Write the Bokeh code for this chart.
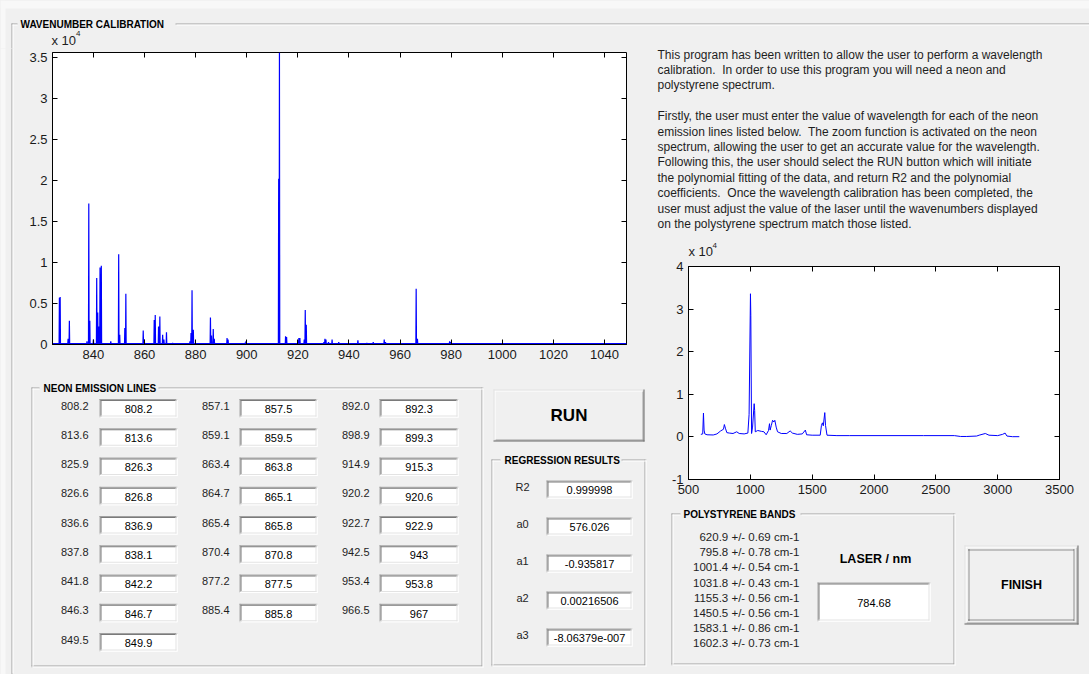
from bokeh.plotting import figure
from bokeh.layouts import row, column
from bokeh.models import Range1d, LinearAxis, FixedTicker, CustomLabelingPolicy
from bokeh.core.properties import value
from bokeh.embed import file_html
from bokeh.resources import INLINE

BG = "#f0f0f0"
FONT = "Liberation Sans"
INK = "#1e1e1e"

# ---------------------------------------------------------------- data
# neon emission spectrum: line positions (raw nm) and peak counts
neon_peak_nm = [826.7, 827.0, 830.1, 830.6, 837.5, 838.2, 838.6, 840.0, 841.3, 841.7,
                842.2, 842.6, 843.1, 846.8, 849.9, 850.3, 852.3, 852.7, 859.5, 859.9,
                863.8, 864.2, 865.5, 866.0, 867.1, 867.6, 868.6, 871.0, 877.8, 878.2,
                878.6, 879.1, 885.8, 886.2, 886.9, 887.3, 892.3, 892.7, 899.3, 899.7,
                912.5, 912.8, 915.2, 915.6, 920.0, 920.4, 920.8, 922.5, 922.9, 923.3,
                930.2, 930.6, 931.0, 932.0, 933.4, 936.0, 943.5, 947.0, 949.5, 953.8,
                954.3, 966.3, 966.8, 979.4, 979.8]
neon_peak_counts = [5700, 5800, 700, 2900, 400, 17200, 2900, 600, 8100, 3900,
                    2200, 9400, 9600, 400, 11000, 1200, 2000, 6200, 1700, 600,
                    3000, 3600, 2200, 3400, 1200, 600, 1500, 200, 400, 1400,
                    6600, 1800, 3300, 1100, 1900, 700, 800, 600, 200, 400,
                    20200, 35600, 1000, 900, 500, 800, 800, 600, 4200, 2400,
                    300, 700, 600, 300, 600, 300, 500, 200, 300, 600,
                    300, 6800, 700, 400, 300]
neon_baseline = 100
neon_window_nm = [824.0, 1048.6]

# polystyrene Raman spectrum (Raman shift cm-1, counts)
ps_shift = [600, 615, 621, 626, 632, 650, 700, 730, 760, 783, 790, 800, 810, 830, 860,
            890, 910, 950, 980, 990, 1001, 1004, 1010, 1018, 1031, 1035, 1040, 1060,
            1090, 1110, 1128, 1147, 1155, 1160, 1170, 1180, 1190, 1198, 1209, 1220,
            1250, 1295, 1322, 1340, 1380, 1420, 1445, 1455, 1500, 1565, 1575, 1583,
            1590, 1602, 1608, 1620, 1700, 1800, 2000, 2400, 2650, 2700, 2750, 2830,
            2850, 2900, 2930, 3000, 3040, 3060, 3075, 3120, 3175]
ps_counts = [600, 700, 5600, 1600, 700, 500, 450, 700, 1400, 1800, 2900, 1900, 1000, 900,
             800, 1200, 800, 700, 900, 5300, 33600, 28500, 800, 2300, 7800, 6200, 1200,
             1500, 1300, 1200, 500, 1500, 3100, 1600, 2700, 3900, 3500, 3900, 2300, 1200,
             800, 800, 1400, 900, 600, 700, 1600, 500, 400, 400, 2700, 3300, 2600, 5700,
             2700, 400, 300, 300, 300, 300, 300, 100, 100, 200, 400, 800, 400, 300, 600,
             900, 200, 50, 50]

neon_xticks = [840, 860, 880, 900, 920, 940, 960, 980, 1000, 1020, 1040]
neon_yticks = [0, 5000, 10000, 15000, 20000, 25000, 30000, 35000]
neon_ylabels = ["0", "0.5", "1", "1.5", "2", "2.5", "3", "3.5"]
ps_xticks = [500, 1000, 1500, 2000, 2500, 3000, 3500]
ps_yticks = [-10000, 0, 10000, 20000, 30000, 40000]
ps_ylabels = ["-1", "0", "1", "2", "3", "4"]

neon_ref = ["808.2", "813.6", "825.9", "826.6", "836.6", "837.8", "841.8", "846.3", "849.5",
            "857.1", "859.1", "863.4", "864.7", "865.4", "870.4", "877.2", "885.4",
            "892.0", "898.9", "914.9", "920.2", "922.7", "942.5", "953.4", "966.5"]
neon_fit = ["808.2", "813.6", "826.3", "826.8", "836.9", "838.1", "842.2", "846.7", "849.9",
            "857.5", "859.5", "863.8", "865.1", "865.8", "870.8", "877.5", "885.8",
            "892.3", "899.3", "915.3", "920.6", "922.9", "943", "953.8", "967"]
neon_columns = [9, 8, 8]

reg_names = ["R2", "a0", "a1", "a2", "a3"]
reg_values = ["0.999998", "576.026", "-0.935817", "0.00216506", "-8.06379e-007"]

ps_bands = ["620.9 +/- 0.69 cm-1", "795.8 +/- 0.78 cm-1", "1001.4 +/- 0.54 cm-1",
            "1031.8 +/- 0.43 cm-1", "1155.3 +/- 0.56 cm-1", "1450.5 +/- 0.56 cm-1",
            "1583.1 +/- 0.86 cm-1", "1602.3 +/- 0.73 cm-1"]
laser_nm = "784.68"

intro_lines = [
    "This program has been written to allow the user to perform a wavelength",
    "calibration.\u00a0 In order to use this program you will need a neon and",
    "polystyrene spectrum.",
    "",
    "Firstly, the user must enter the value of wavelength for each of the neon",
    "emission lines listed below.\u00a0 The zoom function is activated on the neon",
    "spectrum, allowing the user to get an accurate value for the wavelength.",
    "Following this, the user should select the RUN button which will initiate",
    "the polynomial fitting of the data, and return R2 and the polynomial",
    "coefficients.\u00a0 Once the wavelength calibration has been completed, the",
    "user must adjust the value of the laser until the wavenumbers displayed",
    "on the polystyrene spectrum match those listed.",
]

# ---------------------------------------------------------------- GUI primitives (window pixels)
QUADS = []   # (left, top, right, bottom, fill)
SEGS = []    # (x0, y0, x1, y1, color, width, dash)
TEXTS = []   # (x, y, text, size, style, align, color)


def hline(x0, x1, y, color, width=1, dash="solid"):
    SEGS.append((x0, y, x1, y, color, width, dash))


def vline(x, y0, y1, color, width=1, dash="solid"):
    SEGS.append((x, y0, x, y1, color, width, dash))


def text(x, y, s, size="11px", style="normal", align="left", color=INK):
    TEXTS.append((x, y, s, size, style, align, color))


def group_box(x0, y0, x1, y1, title, tx, gap, closed=True):
    for (a, b) in [(x0, gap[0]), (gap[1], x1)]:
        hline(a, b, y0 + 0.5, "#a0a0a0")
        hline(a + 1, b, y0 + 1.5, "#ffffff")
    vline(x0 + 0.5, y0, y1, "#a0a0a0")
    vline(x0 + 1.5, y0 + 1, y1 - 1, "#ffffff")
    if closed:
        vline(x1 - 1.5, y0, y1 - 1, "#a0a0a0")
        vline(x1 - 0.5, y0, y1, "#ffffff")
        hline(x0, x1 - 1, y1 - 1.5, "#a0a0a0")
        hline(x0, x1, y1 - 0.5, "#ffffff")
    text(tx, y0 + 0.5, title, size="10px", style="bold", color="#000000")


def edit_box(x0, y0, x1, y1, s, size="11px"):
    QUADS.append((x0, y0, x1, y1, "#ffffff"))
    hline(x0, x1, y0 + 0.5, "#a0a0a0")
    vline(x0 + 0.5, y0, y1, "#a0a0a0")
    hline(x0 + 1, x1 - 1, y0 + 1.5, "#7a7a7a")
    vline(x0 + 1.5, y0 + 1, y1 - 1, "#7a7a7a")
    hline(x0, x1, y1 - 0.5, "#ffffff")
    vline(x1 - 0.5, y0, y1, "#ffffff")
    hline(x0 + 1, x1 - 1, y1 - 1.5, "#e3e3e3")
    vline(x1 - 1.5, y0 + 1, y1 - 1, "#e3e3e3")
    text((x0 + x1) / 2, (y0 + y1) / 2 + 0.5, s, size=size, align="center", color="#000000")


def push_button(x0, y0, x1, y1, label, size, focus=False):
    QUADS.append((x0, y0, x1, y1, BG))
    hline(x0, x1, y0 + 0.5, "#e3e3e3")
    vline(x0 + 0.5, y0, y1, "#e3e3e3")
    hline(x0 + 1, x1 - 1, y0 + 1.5, "#ffffff")
    vline(x0 + 1.5, y0 + 1, y1 - 1, "#ffffff")
    hline(x0, x1, y1 - 0.5, "#696969")
    vline(x1 - 0.5, y0, y1, "#696969")
    hline(x0 + 1, x1 - 1, y1 - 1.5, "#a0a0a0")
    vline(x1 - 1.5, y0 + 1, y1 - 1, "#a0a0a0")
    if focus:
        hline(x0 + 4, x1 - 4, y0 + 4.5, "#303030", dash="1 1")
        hline(x0 + 4, x1 - 4, y1 - 4.5, "#303030", dash="1 1")
        vline(x0 + 4.5, y0 + 4, y1 - 4, "#303030", dash="1 1")
        vline(x1 - 4.5, y0 + 4, y1 - 4, "#303030", dash="1 1")
    text((x0 + x1) / 2, (y0 + y1) / 2, label, size=size, style="bold", align="center",
         color="#000000")


# window chrome
QUADS.append((0, 0, 1089, 8, "#f8f8f8"))
QUADS.append((0, 0, 5, 674, "#f8f8f8"))
group_box(11, 23, 1089, 674, "WAVENUMBER CALIBRATION", 20, (17, 175), closed=False)

# exponent captions of the two spectra
text(51, 40, "x 10", size="13px")
text(75.5, 33, "4", size="8px")
text(688, 251, "x 10", size="13px")
text(712, 244.5, "4", size="8px")

# neon emission lines table
group_box(31, 387, 483, 667, "NEON EMISSION LINES", 43, (39, 158))
col_label_x = [60.5, 201.5, 341.5]
col_box_x = [(99, 177), (239, 317), (379, 458)]
k = 0
for c, n in enumerate(neon_columns):
    for r in range(n):
        cy = 405 + r * 29.25
        text(col_label_x[c], cy, neon_ref[k])
        edit_box(col_box_x[c][0], cy - 6.5, col_box_x[c][1], cy + 12, neon_fit[k])
        k += 1

# run button and regression results
push_button(493, 389, 644, 441, "RUN", "17px")
group_box(491, 459, 646, 666, "REGRESSION RESULTS", 504, (500, 621))
for i, (nm, val) in enumerate(zip(reg_names, reg_values)):
    cy = 486.5 + i * 37.0
    text(522, cy, nm, align="center")
    edit_box(546, cy - 6.5, 632, cy + 11.5, val)

# intro paragraph
for i, line in enumerate(intro_lines):
    if line:
        text(657, 54 + i * 15.4, line, size="12px")

# polystyrene bands, laser and finish
group_box(671, 513, 955, 665, "POLYSTYRENE BANDS", 683, (680, 800))
for i, band in enumerate(ps_bands):
    text(799, 536.5 + i * 15.2, band, size="11.5px", align="right")
text(875, 558, "LASER / nm", size="12.5px", style="bold", align="center", color="#000000")
edit_box(817, 582, 930, 621, laser_nm)
push_button(964, 545, 1078, 624, "FINISH", "12.5px", focus=True)


# ---------------------------------------------------------------- figures
def canvas(x0, y0, w, h):
    c = figure(width=w, height=h, x_range=Range1d(x0, x0 + w), y_range=Range1d(y0 + h, y0),
               x_axis_type=None, y_axis_type=None, tools="", toolbar_location=None,
               output_backend="svg", min_border=0, outline_line_color=None,
               background_fill_color=BG, border_fill_color=BG, frame_align=False)
    for (l, t, r, b, fill) in QUADS:
        if r > x0 and l < x0 + w and b > y0 and t < y0 + h:
            c.quad(left=[l], right=[r], top=[t], bottom=[b], fill_color=fill, line_color=None)
    styles = {}
    for (xa, ya, xb, yb, col, lw, dash) in SEGS:
        if max(xa, xb) >= x0 and min(xa, xb) <= x0 + w and max(ya, yb) >= y0 and min(ya, yb) <= y0 + h:
            styles.setdefault((col, lw, dash), []).append((xa, ya, xb, yb))
    for (col, lw, dash), segs in styles.items():
        c.segment(x0=[s[0] for s in segs], y0=[s[1] for s in segs],
                  x1=[s[2] for s in segs], y1=[s[3] for s in segs],
                  line_color=col, line_width=lw, line_dash=dash)
    for (tx, ty, s, size, style, align, col) in TEXTS:
        if x0 <= tx < x0 + w and y0 <= ty < y0 + h:
            c.text(x=[tx], y=[ty], text=[s], text_font=value(FONT),
                   text_font_size=value(size), text_font_style=style,
                   text_align=align, text_baseline="middle", text_color=col)
    return c


# tick marks on the top and right edges carry no labels
no_labels = CustomLabelingPolicy(code="""
    const all = Array.from(indices)
    for (const i of all) indices.unset(i)
    return indices
""")


def spectrum_axes(w, h, xr, yr, xticks, yticks, ylabels, left, right, top, bottom):
    p = figure(width=w, height=h, x_range=Range1d(*xr), y_range=Range1d(*yr), tools="",
               toolbar_location=None, output_backend="svg",
               min_border_left=left, min_border_right=right,
               min_border_top=top, min_border_bottom=bottom,
               background_fill_color="#ffffff", border_fill_color=BG,
               outline_line_color="#000000", frame_align=False)
    p.grid.visible = False
    p.xaxis.ticker = FixedTicker(ticks=xticks)
    p.yaxis.ticker = FixedTicker(ticks=yticks)
    p.yaxis.major_label_overrides = {t: lab for t, lab in zip(yticks, ylabels)}
    p.add_layout(LinearAxis(ticker=FixedTicker(ticks=xticks)), "above")
    p.add_layout(LinearAxis(ticker=FixedTicker(ticks=yticks)), "right")
    for ax in p.axis:
        ax.axis_line_color = "#000000"
        ax.major_tick_line_color = "#000000"
        ax.major_tick_in = 5
        ax.major_tick_out = 0
        ax.minor_tick_line_color = None
        ax.major_label_text_font = FONT
        ax.major_label_text_font_size = "13px"
        ax.major_label_text_color = "#1a1a1a"
        ax.major_label_standoff = 5
    for ax in p.above + p.right:
        ax.axis_line_color = None
        ax.major_label_text_font_size = "1px"
        ax.major_label_standoff = 0
        ax.major_label_policy = no_labels
    return p


# neon spectrum drawn as narrow lines on a flat baseline
neon_x = [neon_window_nm[0]]
neon_y = [neon_baseline]
for nm, counts in zip(neon_peak_nm, neon_peak_counts):
    neon_x += [nm - 0.12, nm, nm + 0.12]
    neon_y += [neon_baseline, counts, neon_baseline]
neon_x.append(neon_window_nm[1])
neon_y.append(neon_baseline)

p_neon = spectrum_axes(630, 322, neon_window_nm, (0, max(neon_peak_counts)),
                       neon_xticks, neon_yticks, neon_ylabels, 32, 24, 4, 26)
p_neon.line(neon_x, neon_y, line_color="#0000ff", line_width=1.2)

p_ps = spectrum_axes(430, 242, (500, 3500), (-10000, 40000),
                     ps_xticks, ps_yticks, ps_ylabels, 38, 21, 8, 21)
p_ps.line(ps_shift, ps_counts, line_color="#0000ff", line_width=1)

top_strip = canvas(0, 0, 1089, 48)
left_strip = canvas(0, 48, 20, 626)
lower_left = canvas(20, 370, 630, 304)
intro = canvas(650, 48, 430, 210)
lower_right = canvas(650, 500, 430, 174)
right_strip = canvas(1080, 48, 9, 626)

pane = {"background-color": BG}
page = column(top_strip,
              row(left_strip,
                  column(p_neon, lower_left, spacing=0, styles=pane),
                  column(intro, p_ps, lower_right, spacing=0, styles=pane),
                  right_strip, spacing=0, styles=pane),
              spacing=0, styles=pane)

open("out.html", "w").write(file_html(page, INLINE))
